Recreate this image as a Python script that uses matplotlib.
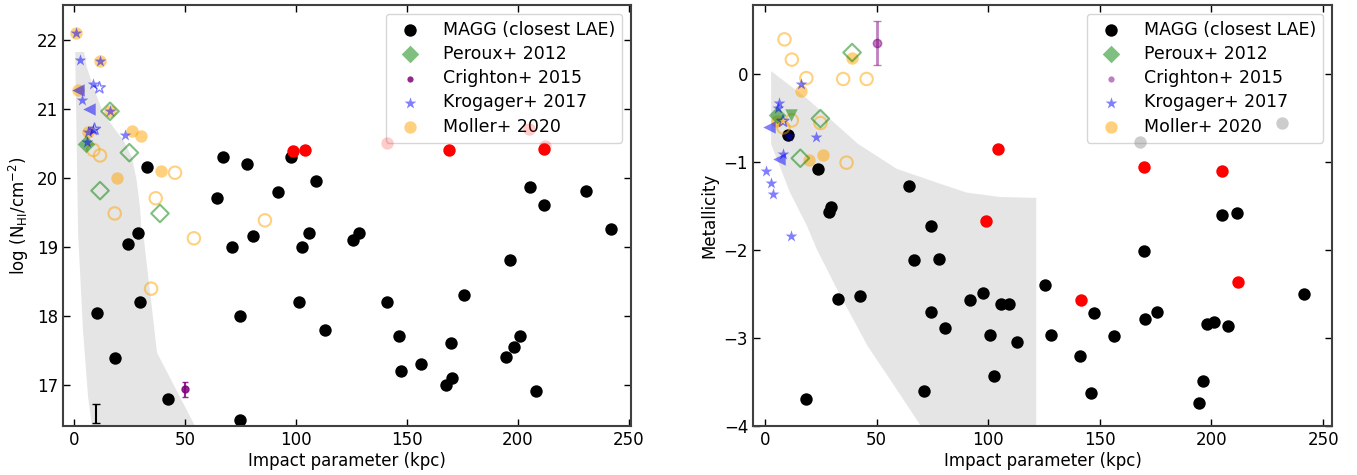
import numpy as np
import matplotlib
matplotlib.use('Agg')
import matplotlib.pyplot as plt

plt.rcParams['font.size'] = 12

# ---------------- left panel: N_HI vs impact parameter ----------------
magg_b = [10.5, 18.5, 24.2, 29.0, 29.7, 32.7, 42.5, 64.5, 67.0, 71.3, 74.8, 74.8, 78.0, 80.8,
          92.0, 97.7, 101.4, 102.7, 105.9, 109.0, 113.0, 125.7, 128.4, 141.0, 146.4, 147.3,
          156.3, 167.6, 169.8, 170.3, 175.7, 194.6, 196.4, 198.2, 201.0, 205.4, 208.0, 212.0,
          230.6, 241.9]
magg_nhi = [18.04, 17.39, 19.04, 19.19, 18.20, 20.15, 16.79, 19.70, 20.30, 19.00, 17.99, 16.49,
            20.19, 19.15, 19.79, 20.30, 18.19, 19.00, 19.19, 19.95, 17.79, 19.10, 19.19, 18.19,
            17.70, 17.20, 17.30, 17.00, 17.60, 17.10, 18.30, 17.40, 18.80, 17.54, 17.70, 19.86,
            16.90, 19.60, 19.80, 19.25]
red_b = [98.6, 104.0, 169.0, 212.0]
red_nhi = [20.38, 20.40, 20.40, 20.42]
pink_b = [141.0, 205.0, 212.3]
pink_nhi = [20.50, 20.70, 20.46]

moller_b = [0.8, 11.7, 1.9, 16.2, 6.4, 26.0, 30.0, 19.5, 39.0]
moller_nhi = [22.10, 21.69, 21.27, 20.96, 20.66, 20.67, 20.60, 20.00, 20.10]
moller_open_b = [8.7, 11.7, 45.5, 36.8, 18.3, 86.0, 54.0, 34.7]
moller_open_nhi = [20.40, 20.32, 20.07, 19.70, 19.48, 19.38, 19.12, 18.39]

peroux_b = [5.4]
peroux_nhi = [20.49]
peroux_open_b = [16.2, 24.9, 11.7, 38.7]
peroux_open_nhi = [20.96, 20.36, 19.81, 19.48]

krog_b = [0.8, 2.7, 11.7, 8.7, 3.7, 16.2, 6.4, 8.4, 23.0, 6.0]
krog_nhi = [22.10, 21.70, 21.69, 21.36, 21.12, 20.96, 20.66, 20.69, 20.62, 20.52]
krog_open_b = [11.4, 9.2]
krog_open_nhi = [21.30, 20.70]
krog_lim_b = [1.9, 6.9]
krog_lim_nhi = [21.27, 21.00]

crighton_b, crighton_nhi, crighton_err = 50.0, 16.93, 0.11
typ_b, typ_nhi, typ_err = 9.9, 16.58, 0.14

shade_nhi_x = [0.5, 4.5, 5.7, 8.7, 13.2, 17.7, 22.2, 26.0, 28.2, 29.7, 30.5, 31.0, 37.4, 54.5,
               8.1, 6.3, 4.0, 1.8]
shade_nhi_y = [21.82, 21.82, 21.60, 21.31, 20.93, 20.73, 20.54, 20.30, 19.96, 19.57, 19.19,
               19.24, 17.46, 16.40, 16.40, 16.82, 17.79, 19.19]

# ---------------- right panel: metallicity vs impact parameter ----------------
magg_b2 = [10.4, 23.9, 29.5, 28.8, 64.3, 74.3, 66.8, 77.9, 32.6, 42.5, 91.6, 97.6, 105.7, 109.1,
           74.3, 80.7, 100.9, 102.4, 71.0, 18.3, 125.6, 112.9, 128.3, 147.2, 141.0, 146.0,
           156.2, 170.4, 175.5, 169.6, 198.0, 201.0, 196.0, 194.3, 207.6, 241.6, 204.8, 211.5]
magg_z = [-0.70, -1.08, -1.51, -1.57, -1.28, -1.73, -2.12, -2.10, -2.56, -2.52, -2.57, -2.49,
          -2.62, -2.62, -2.70, -2.89, -2.97, -3.43, -3.60, -3.69, -2.40, -3.05, -2.97, -2.72,
          -3.20, -3.62, -2.98, -2.79, -2.71, -2.01, -2.84, -2.82, -3.49, -3.74, -2.87, -2.50,
          -1.60, -1.58]
red_b2 = [104.4, 98.8, 169.8, 204.8, 212.0, 141.4]
red_z = [-0.86, -1.67, -1.06, -1.10, -2.36, -2.57]
grey_b2 = [167.9, 231.5]
grey_z = [-0.78, -0.56]

moller_b2 = [39.0, 15.9, 5.5, 19.5, 25.8]
moller_z = [0.18, -0.20, -0.54, -0.98, -0.92]
moller_open_b2 = [8.7, 12.0, 18.5, 35.0, 45.5, 12.0, 8.2, 24.8, 36.5]
moller_open_z = [0.39, 0.16, -0.05, -0.06, -0.06, -0.53, -0.61, -0.56, -1.01]

peroux_b2 = [5.5]
peroux_z = [-0.47]
peroux_open_b2 = [39.0, 24.8, 15.8]
peroux_open_z = [0.24, -0.51, -0.96]
peroux_lim_b2 = [11.6]
peroux_lim_z = [-0.47]

krog_b2 = [16.1, 6.4, 6.0, 23.0, 10.9, 8.2, 0.5, 2.6, 3.5, 11.7]
krog_z = [-0.12, -0.33, -0.39, -0.72, -0.71, -0.91, -1.11, -1.24, -1.37, -1.84]
krog_open_b2 = [8.0]
krog_open_z = [-0.54]
krog_lim_b2 = [1.9, 6.4]
krog_lim_z = [-0.61, -0.97]

crighton_b2, crighton_z, crighton_err2 = 50.0, 0.35, 0.25

shade_z_x = [2.7, 18.7, 41.8, 59.0, 78.5, 90.4, 105.4, 121.5, 121.5, 69.8, 57.8, 45.9, 32.3,
             23.3, 18.8, 11.2, 2.7]
shade_z_y = [0.03, -0.28, -0.80, -1.08, -1.25, -1.35, -1.40, -1.41, -4.0, -4.0, -3.54, -3.09,
             -2.45, -2.00, -1.73, -1.35, -0.80]


def style_axis(ax):
    ax.tick_params(direction='in', top=True, right=True, length=5, width=1, labelsize=12)
    for sp in ax.spines.values():
        sp.set_linewidth(1.5)
        sp.set_color('0.25')


fig = plt.figure(figsize=(13.57, 4.75), dpi=100)
ax1 = fig.add_axes([63 / 1357, 49 / 475, 568 / 1357, 421 / 475])
ax2 = fig.add_axes([753 / 1357, 49 / 475, 579 / 1357, 421 / 475])

s = 80
lab = ['MAGG (closest LAE)', 'Peroux+ 2012', 'Crighton+ 2015', 'Krogager+ 2017', 'Moller+ 2020']
leg_kw = dict(loc='upper right', fontsize=12.5, labelspacing=0.36, handletextpad=0.9)

# left
ax1.fill(shade_nhi_x, shade_nhi_y, color='grey', alpha=0.2, lw=0)
h0 = ax1.scatter(magg_b, magg_nhi, s=s, color='black', lw=0, label=lab[0])
ax1.scatter(red_b, red_nhi, s=s, color='red', lw=0, zorder=6)
ax1.scatter(pink_b, pink_nhi, s=s, color='red', alpha=0.2, lw=0, zorder=7)
h4 = ax1.scatter(moller_b, moller_nhi, s=s, color='orange', alpha=0.5, lw=0, label=lab[4])
ax1.scatter(moller_open_b, moller_open_nhi, s=s, facecolor='none', edgecolor='orange', alpha=0.5, lw=1.5)
h1 = ax1.scatter(peroux_b, peroux_nhi, s=s, marker='D', color='green', alpha=0.5, lw=0, label=lab[1])
ax1.scatter(peroux_open_b, peroux_open_nhi, s=s, marker='D', facecolor='none', edgecolor='green', alpha=0.5, lw=1.5)
h3 = ax1.scatter(krog_b, krog_nhi, s=s, marker='*', color='blue', alpha=0.5, lw=0, label=lab[3])
ax1.scatter(krog_open_b, krog_open_nhi, s=s, marker='*', facecolor='none', edgecolor='blue', alpha=0.5, lw=1)
ax1.scatter(krog_lim_b, krog_lim_nhi, s=s, marker='<', color='blue', alpha=0.5, lw=0)
ax1.errorbar(crighton_b, crighton_nhi, yerr=crighton_err, fmt='o', ms=5, color='purple',
             alpha=0.85, capsize=2.5, lw=1.5)
h2 = ax1.scatter([], [], s=20, color='purple', alpha=0.85, lw=0, label=lab[2])
ax1.errorbar(typ_b, typ_nhi, yerr=typ_err, fmt='none', color='black', capsize=3, lw=1.5)

ax1.set_xlim(-5, 251)
ax1.set_ylim(16.4, 22.5)
ax1.set_xticks([0, 50, 100, 150, 200, 250])
ax1.set_yticks([17, 18, 19, 20, 21, 22])
ax1.set_xlabel('Impact parameter (kpc)', fontsize=12, labelpad=2)
ax1.set_ylabel(r'log (N$_{\rm HI}$/cm$^{-2}$)', fontsize=12)
style_axis(ax1)
ax1.legend(handles=[h0, h1, h2, h3, h4], **leg_kw)

# right
ax2.fill(shade_z_x, shade_z_y, color='grey', alpha=0.2, lw=0)
g0 = ax2.scatter(magg_b2, magg_z, s=s, color='black', lw=0, label=lab[0])
ax2.scatter(red_b2, red_z, s=s, color='red', lw=0, zorder=6)
ax2.scatter(grey_b2, grey_z, s=s, color='grey', alpha=0.4, lw=0, zorder=6)
g4 = ax2.scatter(moller_b2, moller_z, s=s, color='orange', alpha=0.5, lw=0, label=lab[4])
ax2.scatter(moller_open_b2, moller_open_z, s=s, facecolor='none', edgecolor='orange', alpha=0.5, lw=1.5)
g1 = ax2.scatter(peroux_b2, peroux_z, s=s, marker='D', color='green', alpha=0.5, lw=0, label=lab[1])
ax2.scatter(peroux_open_b2, peroux_open_z, s=s, marker='D', facecolor='none', edgecolor='green', alpha=0.5, lw=1.5)
ax2.scatter(peroux_lim_b2, peroux_lim_z, s=s, marker='v', color='green', alpha=0.5, lw=0)
g3 = ax2.scatter(krog_b2, krog_z, s=s, marker='*', color='blue', alpha=0.5, lw=0, label=lab[3])
ax2.scatter(krog_open_b2, krog_open_z, s=s, marker='*', facecolor='none', edgecolor='blue', alpha=0.5, lw=1)
ax2.scatter(krog_lim_b2, krog_lim_z, s=s, marker='<', color='blue', alpha=0.5, lw=0)
ax2.errorbar(crighton_b2, crighton_z, yerr=crighton_err2, fmt='o', ms=6, color='purple',
             alpha=0.5, capsize=3, lw=2)
g2 = ax2.scatter([], [], s=20, color='purple', alpha=0.5, lw=0, label=lab[2])

ax2.set_xlim(-5.4, 254)
ax2.set_ylim(-4, 0.78)
ax2.set_xticks([0, 50, 100, 150, 200, 250])
ax2.set_yticks([-4, -3, -2, -1, 0])
ax2.set_xlabel('Impact parameter (kpc)', fontsize=12, labelpad=2)
ax2.set_ylabel('Metallicity', fontsize=12)
style_axis(ax2)
ax2.legend(handles=[g0, g1, g2, g3, g4], **leg_kw)

plt.savefig('out.png', dpi=100)
plt.close()
